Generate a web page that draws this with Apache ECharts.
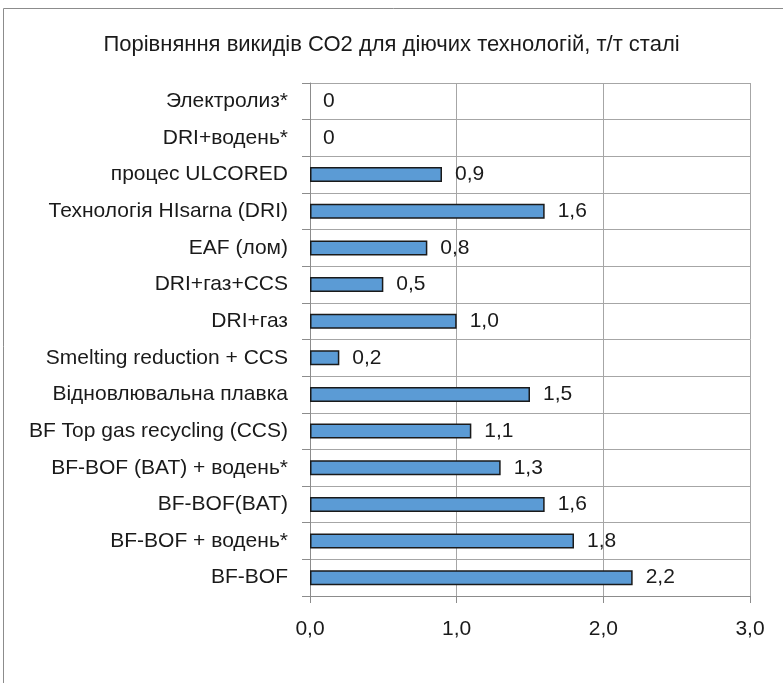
<!DOCTYPE html>
<html><head><meta charset="utf-8">
<script src="https://cdn.jsdelivr.net/npm/echarts@6/dist/echarts.min.js"></script>
<style>html,body{margin:0;padding:0;background:#fff}#c{width:783px;height:683px}</style>
</head><body><div id="c"></div>
<script>
const categories = ["BF-BOF","BF-BOF + водень*","BF-BOF(BAT)","BF-BOF (BAT) + водень*","BF Top gas recycling (CCS)","Відновлювальна плавка","Smelting reduction + CCS","DRI+газ","DRI+газ+CCS","EAF (лом)","Технологія HIsarna (DRI)","процес ULCORED","DRI+водень*","Электролиз*"];
const values = [2.2,1.8,1.6,1.3,1.1,1.5,0.2,1.0,0.5,0.8,1.6,0.9,0,0];
const xTicks = [0,1,2,3];
const titleText = "Порівняння викидів СО2 для діючих технологій, т/т сталі";
const fmt = v => v === 0 ? '0' : v.toFixed(1).replace('.', ',');
const font = "'Liberation Sans', Arial, sans-serif";
const chart = echarts.init(document.getElementById('c'), null, {renderer:'canvas'});
chart.setOption({
  animation:false,
  backgroundColor:'#fff',
  graphic:[{type:'rect',shape:{x:3.5,y:8.5,width:820,height:720},style:{fill:'none',stroke:'#8c8c8c',lineWidth:1},silent:true}],
  title:{text:titleText,left:'center',top:29,textStyle:{fontFamily:font,fontSize:22,fontWeight:'normal',color:'#1a1a1a'}},
  grid:{left:310,right:33,top:83,bottom:87,containLabel:false},
  xAxis:{type:'value',min:xTicks[0],max:xTicks[xTicks.length-1],interval:1,
    axisLine:{show:true,lineStyle:{color:'#8c8c8c'}},
    axisTick:{show:true,length:7,lineStyle:{color:'#8c8c8c'}},
    splitLine:{show:true,lineStyle:{color:'#a6a6a6'}},
    axisLabel:{formatter:v=>v.toFixed(1).replace('.',','),fontFamily:font,fontSize:21,color:'#1a1a1a',margin:23}},
  yAxis:{type:'category',data:categories,
    axisLine:{show:true,lineStyle:{color:'#8c8c8c'}},
    axisTick:{show:true,length:8,lineStyle:{color:'#8c8c8c'}},
    splitLine:{show:true,lineStyle:{color:'#a6a6a6'}},
    axisLabel:{fontFamily:font,fontSize:21,color:'#1a1a1a',margin:22}},
  series:[{type:'bar',barWidth:15,
    data:values.map(v=>({value:v,itemStyle:v===0?{borderWidth:0}:{}})),
    itemStyle:{color:'#5b9bd5',borderColor:'#1a1a1a',borderWidth:1.5},
    label:{show:true,position:'right',distance:13,formatter:p=>fmt(p.value),fontFamily:font,fontSize:21,color:'#1a1a1a'}}]
});
</script></body></html>
